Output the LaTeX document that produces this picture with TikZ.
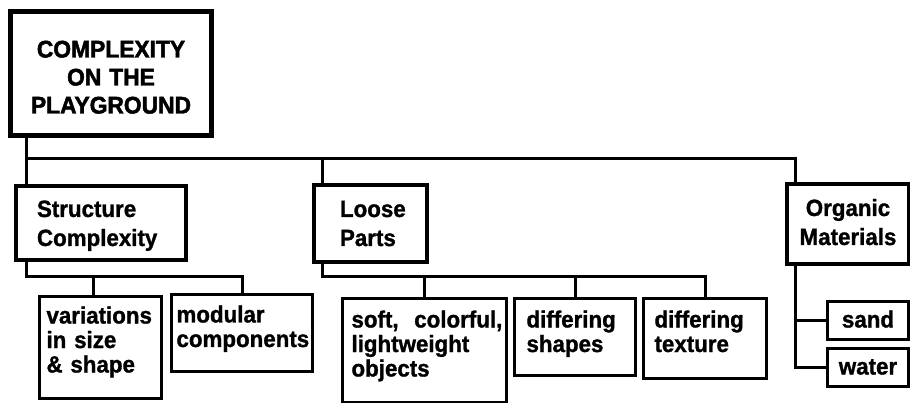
\documentclass[tikz,border=0pt]{standalone}
\usepackage{fontspec}
\setmainfont{Liberation Sans}[BoldFeatures={FakeBold=1.2,FakeStretch=0.95}]
\newfontfamily\heavyfont{Liberation Sans}[BoldFeatures={FakeBold=2,FakeStretch=0.95}]
\usetikzlibrary{calc}
\begin{document}
\begin{tikzpicture}[x=1pt,y=-1pt,
  bx/.style={draw, anchor=north west, inner ysep=0pt, align=left},
  topbox/.style={bx, line width=5pt, align=center, inner xsep=0pt,
    font=\heavyfont\bfseries\fontsize{24}{28}\selectfont},
  midbox/.style={bx, line width=4pt, font=\bfseries\fontsize{23.5}{29}\selectfont},
  subbox/.style={bx, line width=3pt, font=\bfseries\fontsize{23.5}{24.5}\selectfont},
  conn/.style={line width=3pt}
]
\useasboundingbox (0,0) rectangle (910,403);

% level 0
\node[topbox, text width=201pt, text height=46pt, text depth=78pt] (title) at (8,9)
  {COMPLEXITY\\ON THE\\PLAYGROUND};

% level 1
\node[midbox, inner xsep=21pt, text width=128pt, text height=31pt, text depth=43pt] (struct) at (14,184)
  {Structure\\Complexity};
\node[midbox, inner xsep=26pt, text width=61pt, text height=32pt, text depth=45pt] (loose) at (312,183)
  {Loose\\Parts};
\node[midbox, align=center, inner xsep=0pt, text width=122pt, text height=32pt, text depth=48pt] (org) at (785,182)
  {Organic\\Materials};

% level 2
\node[subbox, inner xsep=7pt, text width=108pt, text height=27pt, text depth=75pt] (var) at (38,295)
  {variations\\\mbox{in size}\\\mbox{\& shape}};
\node[subbox, inner xsep=5pt, text width=131pt, text height=28pt, text depth=49pt] (mod) at (170,293)
  {modular\\components};
\node[subbox, inner xsep=9pt, text width=146pt, text height=29pt, text depth=75pt] (soft) at (341,297)
  {\mbox{soft,\ \ colorful,}\\lightweight\\objects};
\node[subbox, inner xsep=12pt, text width=97pt, text height=29pt, text depth=48pt] (shp) at (513,297)
  {differing\\shapes};
\node[subbox, inner xsep=11pt, text width=101pt, text height=29pt, text depth=51pt] (tex) at (642,297)
  {differing\\texture};
\node[subbox, align=center, inner xsep=0pt, text width=81pt, text height=26pt, text depth=12pt] (sand) at (826,300)
  {sand};
\node[subbox, align=center, inner xsep=0pt, text width=81pt, text height=26pt, text depth=12pt] (water) at (826,347)
  {water};

% main bus
\coordinate (tx) at ($(title.south west)+(18,0)$);
\coordinate (bus) at (tx |- 0,159);
\coordinate (lx) at ($(loose.north west)+(10,0)$);
\coordinate (ox) at ($(org.north west)+(10,0)$);
\draw[conn] (tx) -- (tx |- struct.north);
\draw[conn] (bus) -- (bus -| ox) -- (ox);
\draw[conn] (bus -| lx) -- (lx);

% structure subtree
\coordinate (sx) at ($(struct.south west)+(12,0)$);
\coordinate (vx) at ($(var.north west)+(55,0)$);
\draw[conn] (sx) -- (sx |- 0,277) -- (mod.north |- 0,277) -- (mod.north);
\draw[conn] (vx |- 0,277) -- (vx);

% loose parts subtree
\coordinate (lsx) at ($(loose.south west)+(10,0)$);
\draw[conn] (lsx) -- (lsx |- 0,277) -- (tex.north |- 0,277) -- (tex.north);
\draw[conn] (soft.north |- 0,277) -- (soft.north);
\draw[conn] (shp.north |- 0,277) -- (shp.north);

% organic subtree
\coordinate (osx) at ($(org.south west)+(10,0)$);
\draw[conn] (osx) -- (osx |- water.west) -- (water.west);
\draw[conn] (osx |- sand.west) -- (sand.west);
\end{tikzpicture}
\end{document}
